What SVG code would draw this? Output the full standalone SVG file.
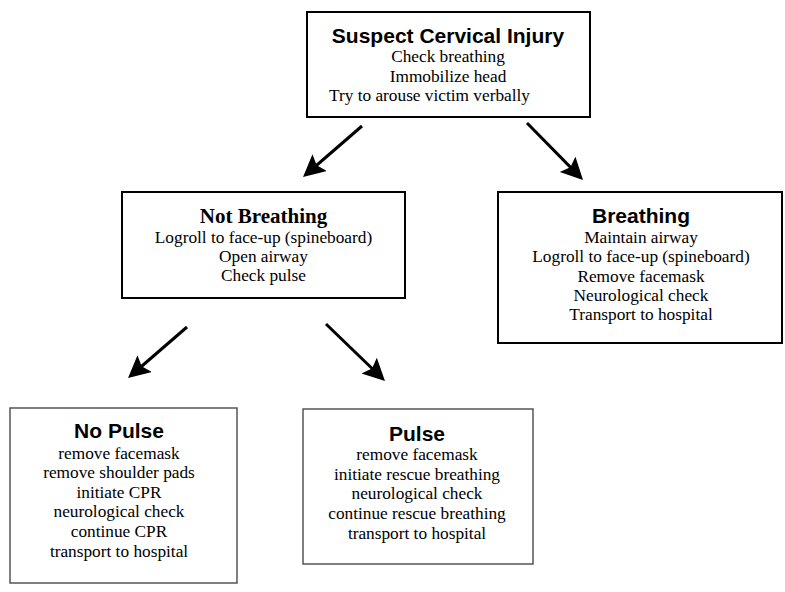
<svg xmlns="http://www.w3.org/2000/svg" width="785" height="592" viewBox="0 0 785 592">
<style>
.bg{fill:#fff}
.box{fill:#fff;stroke:#000;stroke-width:2}
.box2{fill:#fff;stroke:#555;stroke-width:1.5}
.h{font-family:"Liberation Sans",Arial,sans-serif;font-weight:bold;font-size:21px;text-anchor:middle;fill:#000}
.ht{font-family:"Liberation Serif","Times New Roman",serif;font-weight:bold;font-size:21px;text-anchor:middle;fill:#000}
.t{font-family:"Liberation Serif","Times New Roman",serif;font-size:17.3px;text-anchor:middle;fill:#000}
.arr{stroke:#000;stroke-width:3;fill:none;marker-end:url(#ah)}
</style>
<defs>
<marker id="ah" markerUnits="userSpaceOnUse" markerWidth="24" markerHeight="24" viewBox="0 0 24 24" refX="12" refY="11" orient="auto">
<path d="M0,0 L22,11 L0,22 L4,11 Z" fill="#000"/>
</marker>
</defs>
<rect class="bg" x="0" y="0" width="785" height="592"/>
<g id="connectors">
<line class="arr" x1="362" y1="126" x2="310.6" y2="170.5"/>
<line class="arr" x1="527" y1="123" x2="576" y2="172.9"/>
<line class="arr" x1="187" y1="327" x2="135.6" y2="371.5"/>
<line class="arr" x1="326" y1="324" x2="377.8" y2="374"/>
</g>
<g id="suspect">
<rect class="box" x="307" y="12" width="283" height="105"/>
<text class="h" x="448" y="43">Suspect Cervical Injury</text>
<text class="t" x="448" y="62">Check breathing</text>
<text class="t" x="448" y="82">Immobilize head</text>
<text class="t" x="429.5" y="101">Try to arouse victim verbally</text>
</g>
<g id="not-breathing">
<rect class="box" x="122" y="192" width="283" height="106"/>
<text class="ht" x="263.5" y="223">Not Breathing</text>
<text class="t" x="263.5" y="243">Logroll to face-up (spineboard)</text>
<text class="t" x="263.5" y="262">Open airway</text>
<text class="t" x="263.5" y="281">Check pulse</text>
</g>
<g id="breathing">
<rect class="box" x="498" y="192" width="284" height="151"/>
<text class="h" x="641" y="223">Breathing</text>
<text class="t" x="641" y="243">Maintain airway</text>
<text class="t" x="641" y="262">Logroll to face-up (spineboard)</text>
<text class="t" x="641" y="282">Remove facemask</text>
<text class="t" x="641" y="301">Neurological check</text>
<text class="t" x="641" y="320">Transport to hospital</text>
</g>
<g id="no-pulse">
<rect class="box2" x="10" y="408" width="227" height="175"/>
<text class="h" x="119" y="438">No Pulse</text>
<text class="t" x="119" y="459">remove facemask</text>
<text class="t" x="119" y="478">remove shoulder pads</text>
<text class="t" x="119" y="498">initiate CPR</text>
<text class="t" x="119" y="517">neurological check</text>
<text class="t" x="119" y="537">continue CPR</text>
<text class="t" x="119" y="557">transport to hospital</text>
</g>
<g id="pulse">
<rect class="box2" x="303" y="409" width="230" height="155"/>
<text class="h" x="417" y="441">Pulse</text>
<text class="t" x="417" y="460">remove facemask</text>
<text class="t" x="417" y="480">initiate rescue breathing</text>
<text class="t" x="417" y="499">neurological check</text>
<text class="t" x="417" y="519">continue rescue breathing</text>
<text class="t" x="417" y="539">transport to hospital</text>
</g>
</svg>
